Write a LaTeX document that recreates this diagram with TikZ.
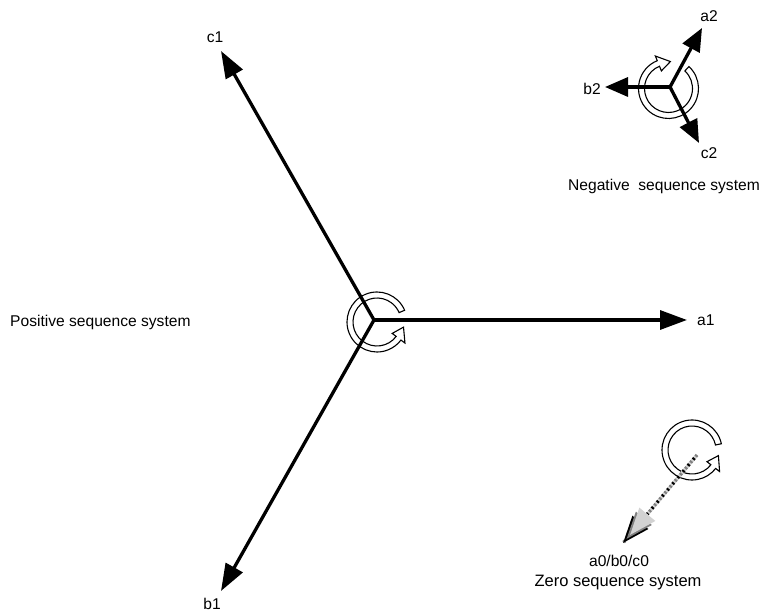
\documentclass[tikz,border=0pt]{standalone}
\usepackage{fontspec}
\setmainfont{Liberation Sans}
\usetikzlibrary{calc,arrows.meta}
\newcommand{\rotring}[4]{%
  \pgfmathsetmacro\tipang{#3+#4}%
  \filldraw[ring] ($(#1)+(#2:30pt)$) arc[start angle=#2, end angle=#3, radius=30pt]
    -- ($(#1)+(#3:35pt)$) -- ($(#1)+(\tipang:27pt)$) -- ($(#1)+(#3:19pt)$)
    -- ($(#1)+(#3:24pt)$) arc[start angle=#3, end angle=#2, radius=24pt] -- cycle;}
\begin{document}
\begin{tikzpicture}[x=1pt,y=1pt,
  vec/.style={line width=3.3pt,-{Triangle[length=27pt 0 0,width=19pt 0 0]}},
  vecs/.style={line width=3.3pt,-{Triangle[length=23pt 0 0,width=19pt 0 0]}},
  ring/.style={draw=black,fill=white,line width=1.1pt},
  lbl/.style={inner sep=0pt,font=\fontsize{15.6}{18}\selectfont},
  zline/.style={line width=3.3pt},
  zhead/.style={line width=3pt,-{Triangle[length=27pt 0 0,width=20pt 0 0]}},
]
\useasboundingbox (0,0) rectangle (765,612);

% ---- positive sequence ----
\coordinate (O1) at (374,292);
\coordinate (R1) at (377,290);
\coordinate (a1tip) at (687,292);
\coordinate (c1tip) at (221,561);
\coordinate (b1tip) at (221,21);
\rotring{R1}{23}{323}{26}
\draw[vec] (O1) -- (a1tip);
\draw[vec] (O1) -- (c1tip);
\draw[vec] (O1) -- (b1tip);
\node[lbl,anchor=base] (c1) at (215,569) {c1};
\node[lbl,anchor=base] (b1) at (212,2) {b1};
\node[lbl,anchor=base west] (a1) at (697,286) {a1};
\node[lbl,anchor=base west] (pos) at (10,285) {Positive sequence system};

% ---- negative sequence ----
\coordinate (O2) at (670,525);
\coordinate (R2) at (668.5,523.5);
\coordinate (a2tip) at (702,584);
\coordinate (b2tip) at (605,525);
\coordinate (c2tip) at (699,469);
\rotring{R2}{47}{-248}{-26}
\draw[vecs] (O2) -- (a2tip);
\draw[vecs] (O2) -- (b2tip);
\draw[vecs] (O2) -- (c2tip);
\node[lbl,anchor=base] (a2) at (709,590) {a2};
\node[lbl,anchor=base] (b2) at (592,517) {b2};
\node[lbl,anchor=base] (c2) at (709,453) {c2};
\node[lbl,anchor=base] (neg) at (664,421) {Negative\ \ sequence system};

% ---- zero sequence ----
\coordinate (R3) at (692,162);
\coordinate (z0) at (697,157);
\coordinate (ztipk) at (623,69);
\coordinate (ztipg) at (626.5,73);
\coordinate (ztipl) at (630,77);
\rotring{R3}{12}{322}{26}
\draw[zline,gray!35] (z0) -- (ztipl);
\draw[zline,gray,dash pattern=on 2pt off 6pt] (z0) -- (ztipk);
\draw[zline,black,dash pattern=on 2pt off 6pt,dash phase=4pt] (z0) -- (ztipk);
\draw[zhead,black] ($(ztipk)!27pt!(z0)$) -- (ztipk);
\draw[zhead,gray] ($(ztipg)!27pt!(z0)$) -- (ztipg);
\draw[zhead,gray!35] ($(ztipl)!27pt!(z0)$) -- (ztipl);
\node[lbl,anchor=base] (abc0) at (619,45) {a0/b0/c0};
\node[lbl,anchor=base,font=\fontsize{16.5}{19}\selectfont] (zero) at (618,25) {Zero sequence system};
\end{tikzpicture}
\end{document}
